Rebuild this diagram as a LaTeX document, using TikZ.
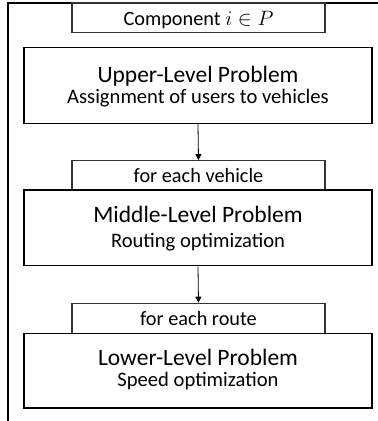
\documentclass[tikz,border=0pt]{standalone}
\usepackage{fontspec}
\setmainfont{Carlito}
\usetikzlibrary{arrows.meta}
\tikzset{
  probbox/.style={draw=black, line width=1.3pt, rectangle, inner sep=0pt},
  tagbox/.style={draw=black!80, line width=1.3pt, rectangle, inner sep=0pt},
  title/.style={anchor=base, inner sep=0pt, font=\fontsize{23.5}{26}\selectfont},
  subtitle/.style={anchor=base, inner sep=0pt, font=\fontsize{20.6}{23}\selectfont},
  tagtext/.style={anchor=base, inner sep=0pt, font=\fontsize{20.3}{23}\selectfont},
  flow/.style={draw=black, line width=0.8pt, -{Triangle[width=6pt,length=6pt]}}
}
\begin{document}
\begin{tikzpicture}[x=1pt, y=-1pt]
  \useasboundingbox (0,0) rectangle (378,421);
  % outer frame, open at the right and bottom
  \coordinate (frameTR) at (378,3);
  \coordinate (frameBL) at (8,421);
  \draw[line width=1.3pt] (frameTR) -| (frameBL);

  % component header
  \node[tagbox, minimum width=253pt, minimum height=29.5pt] (comp) at (198.5,17.75) {};
  \node[tagtext] (compT) at (198.5,25) {Component $i \in P$};

  % upper level
  \node[probbox, minimum width=348pt, minimum height=75.5pt] (upper) at (198,85.5) {};
  \node[title] (upperT) at (198,82.3) {Upper-Level Problem};
  \node[subtitle] (upperS) at (198,103.3) {Assignment of users to vehicles};

  % middle level
  \node[tagbox, minimum width=253pt, minimum height=29.3pt] (veh) at (198.5,175.35) {};
  \node[tagtext] (vehT) at (198.5,182.3) {for each vehicle};
  \node[probbox, minimum width=348pt, minimum height=75.7pt] (middle) at (198,227.85) {};
  \node[title] (middleT) at (198,222.7) {Middle-Level Problem};
  \node[subtitle] (middleS) at (198,247.5) {Routing optimization};

  % lower level
  \node[tagbox, minimum width=253pt, minimum height=30pt] (route) at (198.5,318.3) {};
  \node[tagtext] (routeT) at (198.5,325.7) {for each route};
  \node[probbox, minimum width=348pt, minimum height=74.5pt] (lower) at (198,370.6) {};
  \node[title] (lowerT) at (198,365.5) {Lower-Level Problem};
  \node[subtitle] (lowerS) at (198,386) {Speed optimization};

  % connectors
  \draw[flow] (upper.south) -- (veh.north);
  \draw[flow] (middle.south) -- (route.north);
\end{tikzpicture}
\end{document}
